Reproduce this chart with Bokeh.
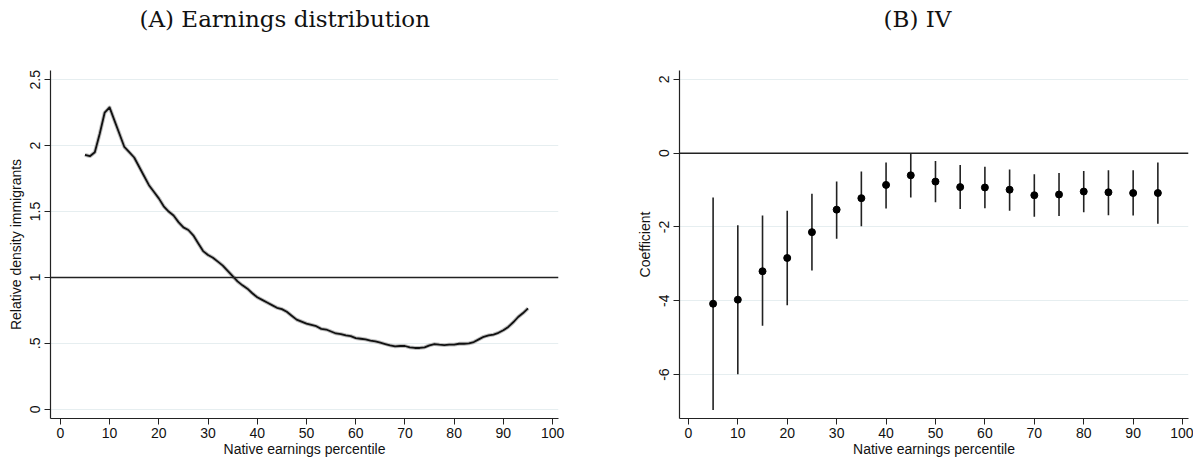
from bokeh.plotting import figure
from bokeh.layouts import row
from bokeh.models import Span, FixedTicker, ColumnDataSource, Title
from bokeh.embed import file_html
from bokeh.resources import INLINE

# ---------------- data ----------------
pct = list(range(5, 96))
density = [1.93, 1.92, 1.95, 2.09, 2.25, 2.29, 2.19, 2.09, 1.99, 1.95,
           1.91, 1.84, 1.77, 1.70, 1.65, 1.60, 1.54, 1.50, 1.47, 1.42,
           1.38, 1.36, 1.32, 1.26, 1.20, 1.17, 1.15, 1.12, 1.09, 1.05,
           1.01, 0.97, 0.94, 0.915, 0.88, 0.85, 0.83, 0.81, 0.79, 0.77,
           0.76, 0.74, 0.71, 0.68, 0.665, 0.65, 0.64, 0.63, 0.61, 0.605,
           0.59, 0.575, 0.57, 0.56, 0.555, 0.54, 0.535, 0.53, 0.52, 0.515,
           0.505, 0.495, 0.485, 0.477, 0.48, 0.48, 0.47, 0.465, 0.465, 0.47,
           0.485, 0.495, 0.49, 0.487, 0.49, 0.49, 0.497, 0.497, 0.50, 0.51,
           0.53, 0.55, 0.56, 0.567, 0.58, 0.60, 0.625, 0.66, 0.70, 0.73,
           0.765]

iv_pct = [5, 10, 15, 20, 25, 30, 35, 40, 45, 50, 55, 60, 65, 70, 75, 80, 85, 90, 95]
coef = [-4.08, -3.97, -3.20, -2.84, -2.14, -1.53, -1.22, -0.86, -0.60, -0.77,
        -0.92, -0.93, -0.99, -1.14, -1.12, -1.04, -1.06, -1.08, -1.08]
ci_lo = [-6.96, -5.99, -4.68, -4.12, -3.18, -2.32, -1.98, -1.50, -1.20, -1.33,
         -1.51, -1.49, -1.56, -1.72, -1.70, -1.60, -1.68, -1.69, -1.91]
ci_hi = [-1.20, -1.95, -1.69, -1.56, -1.10, -0.77, -0.50, -0.25, 0.00, -0.21,
         -0.32, -0.37, -0.44, -0.57, -0.54, -0.48, -0.46, -0.46, -0.25]

x_ticks = [0, 10, 20, 30, 40, 50, 60, 70, 80, 90, 100]
left_yticks = [0, 0.5, 1, 1.5, 2, 2.5]
left_ylabels = ["0", ".5", "1", "1.5", "2", "2.5"]
right_yticks = [-6, -4, -2, 0, 2]
right_ylabels = ["-6", "-4", "-2", "0", "2"]
title_a = "(A) Earnings distribution"
title_b = "(B) IV"

TICK_FONT = "Liberation Sans"
GRID = "#e6eef0"


def style(p, yticks, ylabels, ylabel, title_offset):
    p.outline_line_color = None
    p.background_fill_color = "white"
    p.border_fill_color = "white"
    p.xgrid.grid_line_color = None
    p.ygrid.grid_line_color = GRID
    p.ygrid.grid_line_width = 1
    p.xaxis.ticker = FixedTicker(ticks=x_ticks)
    p.yaxis.ticker = FixedTicker(ticks=yticks)
    p.yaxis.major_label_overrides = {t: l for t, l in zip(yticks, ylabels)}
    p.xaxis.major_label_overrides = {t: str(t) for t in x_ticks}
    for ax in (p.xaxis, p.yaxis):
        ax.axis_line_color = "#222222"
        ax.axis_line_width = 1.2
        ax.major_tick_line_color = "#222222"
        ax.major_tick_out = 6
        ax.major_tick_in = 0
        ax.minor_tick_line_color = None
        ax.major_label_text_font = TICK_FONT
        ax.major_label_text_font_size = "14px"
        ax.major_label_text_color = "#111111"
        ax.axis_label_text_font = TICK_FONT
        ax.axis_label_text_font_size = "14px"
        ax.axis_label_text_font_style = "normal"
        ax.axis_label_text_color = "#111111"
    p.yaxis.major_label_orientation = "vertical"
    p.xaxis.axis_label = "Native earnings percentile"
    p.yaxis.axis_label = ylabel
    p.xaxis.major_label_standoff = 3
    p.xaxis.axis_label_standoff = 0
    p.yaxis.major_label_standoff = 4
    p.yaxis.axis_label_standoff = 4
    t = p.title
    t.text_font = "DejaVu Serif"
    t.text_font_size = "23px"
    t.text_font_style = "normal"
    t.text_color = "#111111"
    t.align = "left"
    t.vertical_align = "top"
    t.offset = title_offset
    t.standoff = 10
    # invisible spacer between the title and the frame
    p.add_layout(Title(text=" ", text_font_size="10px", standoff=19), "above")


# ---------------- panel A ----------------
pA = figure(width=600, height=460, output_backend="svg", toolbar_location=None,
            title=title_a,
            x_range=(-2.0, 101.2), y_range=(-0.07, 2.57),
            min_border_left=50, min_border_right=42, min_border_top=68,
            min_border_bottom=42)
style(pA, left_yticks, left_ylabels, "Relative density immigrants", 89)
pA.add_layout(Span(location=1, dimension="width", line_color="#222222", line_width=1.5))
srcA = ColumnDataSource(dict(x=pct, y=density))
pA.line("x", "y", source=srcA, line_color="#bdbdbd", line_width=3.8, line_join="round")
pA.line("x", "y", source=srcA, line_color="#111111", line_width=1.8, line_join="round")

# ---------------- panel B ----------------
pB = figure(width=593, height=460, output_backend="svg", toolbar_location=None,
            title=title_b,
            x_range=(-1.8, 101.2), y_range=(-7.19, 2.24),
            min_border_left=79, min_border_right=5, min_border_top=68,
            min_border_bottom=42)
style(pB, right_yticks, right_ylabels, "Coefficient", 204)
pB.add_layout(Span(location=0, dimension="width", line_color="#222222", line_width=1.5))
srcB = ColumnDataSource(dict(x=iv_pct, y=coef, lo=ci_lo, hi=ci_hi))
pB.segment(x0="x", y0="lo", x1="x", y1="hi", source=srcB,
           line_color="#222222", line_width=1.6)
pB.scatter("x", "y", source=srcB, size=7, fill_color="black", line_color="black")

layout = row(pA, pB)
open("out.html", "w").write(file_html(layout, INLINE))
